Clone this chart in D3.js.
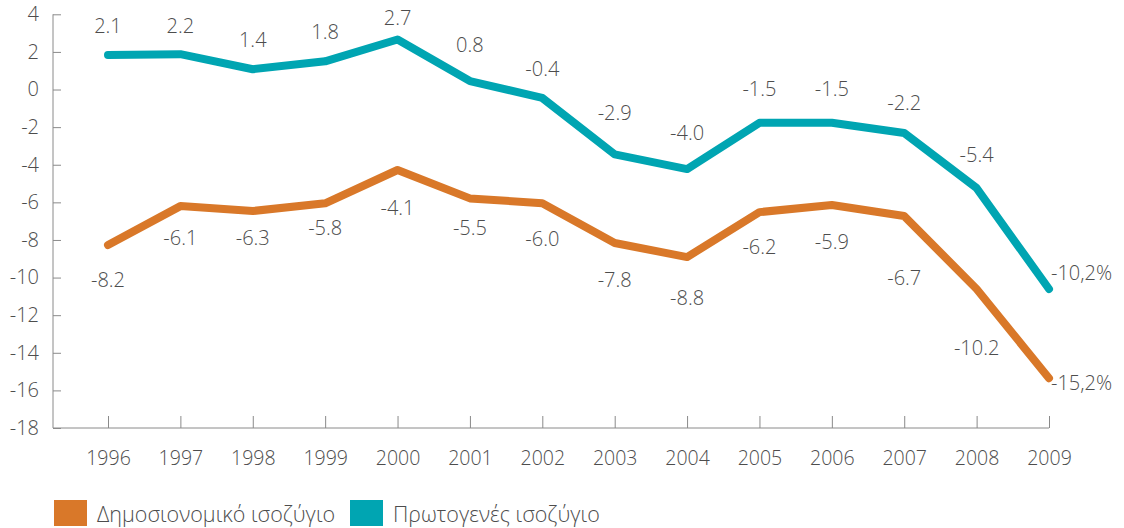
<!DOCTYPE html>
<html>
<head>
<meta charset="utf-8">
<script src="https://cdn.jsdelivr.net/npm/d3@7"></script>
<style>
  body { margin: 0; background: #fff; }
  svg text { font-family: "Open Sans", "Lato", sans-serif; font-weight: 300; }
</style>
</head>
<body>
<div id="chart"></div>
<script>
// data
var years = [1996, 1997, 1998, 1999, 2000, 2001, 2002, 2003, 2004, 2005, 2006, 2007, 2008, 2009];
var primaryBalance = [1.84, 1.88, 1.08, 1.5, 2.66, 0.45, -0.45, -3.45, -4.23, -1.77, -1.77, -2.31, -5.24, -10.61];
var fiscalBalance = [-8.27, -6.2, -6.46, -6.05, -4.28, -5.79, -6.05, -8.16, -8.91, -6.52, -6.14, -6.73, -10.61, -15.35];
var primaryLabels = ["2.1", "2.2", "1.4", "1.8", "2.7", "0.8", "-0.4", "-2.9", "-4.0", "-1.5", "-1.5", "-2.2", "-5.4", "-10,2%"];
var fiscalLabels = ["-8.2", "-6.1", "-6.3", "-5.8", "-4.1", "-5.5", "-6.0", "-7.8", "-8.8", "-6.2", "-5.9", "-6.7", "-10.2", "-15,2%"];
var yTicks = [4, 2, 0, -2, -4, -6, -8, -10, -12, -14, -16, -18];
var seriesNames = ["Δημοσιονομικό ισοζύγιο", "Πρωτογενές ισοζύγιο"];

// label nudges (px, vertical centre relative to the point)
var primaryDy = [-29, -28, -29, -29, -21, -36, -29, -41, -36, -34, -34, -30, -33, -16];
var fiscalDy = [35, 32, 27, 25, 38, 30, 36, 37, 41, 35, 37, 62, 59, 5];

var w = 1124, h = 528;
var orange = "#D97829", teal = "#00A5B2", grey = "#8a8a8a", textCol = "#4d4d4d";

var svg = d3.select("#chart").append("svg")
    .attr("width", w)
    .attr("height", h);

var x = d3.scalePoint().domain(years).range([108, 1049]);
var y = d3.scaleLinear().domain([-18, 4]).range([428, 14.3]);

// y axis
var yAxis = svg.append("g")
    .attr("transform", "translate(53,0)")
    .call(d3.axisRight(y).tickValues(yTicks).tickSize(8).tickFormat(d3.format("d")));
yAxis.select(".domain").attr("stroke", grey).attr("d", "M0," + y(4) + "V" + y(-18));
yAxis.selectAll(".tick line").attr("stroke", grey);
yAxis.selectAll(".tick text")
    .attr("x", -14)
    .attr("text-anchor", "end")
    .attr("fill", textCol)
    .attr("font-size", "20px")
    .text(function(d){ return d < 0 ? "-" + Math.abs(d) : d; });

// x axis
var xAxis = svg.append("g")
    .attr("transform", "translate(0," + y(-18) + ")")
    .call(d3.axisTop(x).tickSize(12).tickSizeOuter(0));
xAxis.select(".domain").attr("stroke", grey).attr("d", "M53,0H" + x(2009));
xAxis.selectAll(".tick line").attr("stroke", grey);
xAxis.selectAll(".tick text")
    .attr("y", 23)
    .attr("dy", "0.71em")
    .attr("fill", textCol)
    .attr("font-size", "19.5px");

var line = d3.line()
    .x(function(d, i){ return x(years[i]); })
    .y(function(d){ return y(d); });

svg.append("path")
    .attr("d", line(fiscalBalance))
    .attr("fill", "none")
    .attr("stroke", orange)
    .attr("stroke-width", 8)
    .attr("stroke-linecap", "round")
    .attr("stroke-linejoin", "round");

svg.append("path")
    .attr("d", line(primaryBalance))
    .attr("fill", "none")
    .attr("stroke", teal)
    .attr("stroke-width", 8)
    .attr("stroke-linecap", "round")
    .attr("stroke-linejoin", "round");

//Labels
function addLabels(values, labels, dys){
  svg.append("g").selectAll("text")
    .data(values)
    .enter()
    .append("text")
    .attr("x", function(d, i){ return i == values.length - 1 ? x(years[i]) + 2 : x(years[i]); })
    .attr("y", function(d, i){ return y(d) + dys[i]; })
    .attr("dy", "0.35em")
    .attr("text-anchor", function(d, i){ return i == values.length - 1 ? "start" : "middle"; })
    .attr("font-size", "20px")
    .attr("fill", textCol)
    .text(function(d, i){ return labels[i]; });
}
addLabels(primaryBalance, primaryLabels, primaryDy);
addLabels(fiscalBalance, fiscalLabels, fiscalDy);

// legend
var legend = svg.append("g").selectAll("g")
    .data(seriesNames)
    .enter()
    .append("g")
    .attr("transform", function(d, i){ return "translate(" + (54 + i * 296) + ",500)"; });
legend.append("rect")
    .attr("width", 33)
    .attr("height", 26)
    .attr("fill", function(d, i){ return i == 0 ? orange : teal; });
legend.append("text")
    .attr("x", 43)
    .attr("y", 22)
    .attr("font-size", "21.5px")
    .attr("fill", textCol)
    .text(function(d){ return d; });
</script>
</body>
</html>
